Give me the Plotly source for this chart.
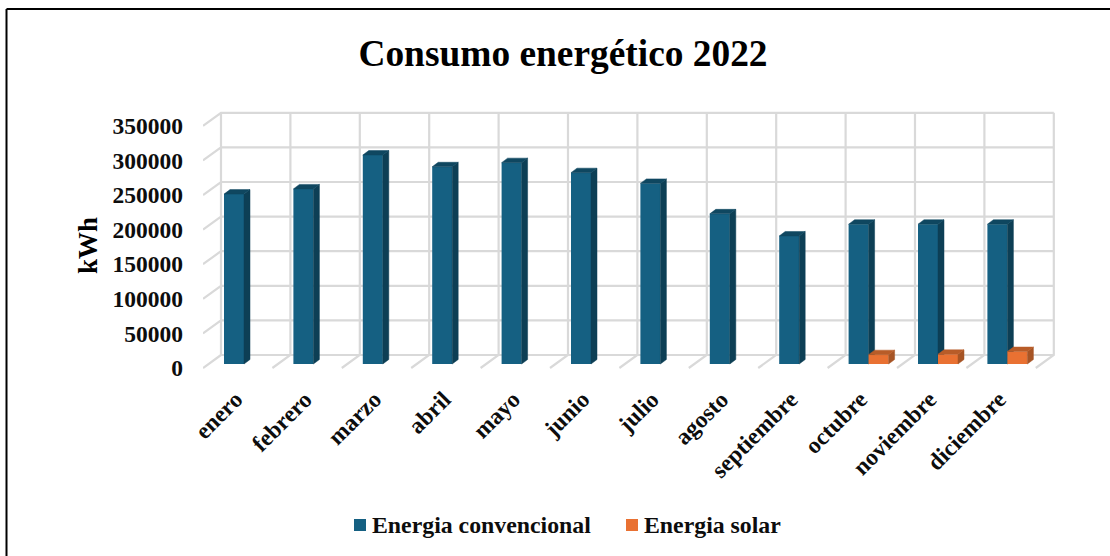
import plotly.graph_objects as go

months = ["enero", "febrero", "marzo", "abril", "mayo", "junio", "julio", "agosto",
          "septiembre", "octubre", "noviembre", "diciembre"]
conv = [245500, 253000, 302000, 285000, 291000, 276500, 261000, 217000, 185000, 202000, 202000, 202000]
solar = [None, None, None, None, None, None, None, None, None, 13500, 14000, 18000]
y_ticks = [0, 50000, 100000, 150000, 200000, 250000, 300000, 350000]
COLOR_CONV = "#156082"
COLOR_SOLAR = "#E97132"
NAME_CONV = "Energia convencional"
NAME_SOLAR = "Energia solar"

W, H = 1110, 556
L, R, T, B = 203, 1060, 108, 372
PX_X = 69.4
PX_Y = 34.6 / 50000
Y0 = 368
ux = 1 / PX_X
uy = 1 / PX_Y
x_lo = -0.5
x_hi = x_lo + (R - L) * ux
y_lo = (Y0 - B) * uy
y_hi = (Y0 - T) * uy

WDX, WDY = 18 * ux, 13 * uy
BASE_Y = 4 * uy
BW = 20 * ux
BDX, BDY = 6 * ux, 4.5 * uy
C0 = 203 + 34.7
OFF_CONV = (224 - C0) * ux
OFF_SOL = (244 - C0) * ux

n = len(months)
top_back = y_ticks[-1] + WDY
segs = []
for v in y_ticks:
    segs.append(f"M{x_lo},{v} L{x_lo + WDX},{v + WDY} L{x_lo + n + WDX},{v + WDY}")
for i in range(n + 1):
    xb = x_lo + i + WDX
    segs.append(f"M{xb},{top_back} L{xb},{WDY} L{xb - WDX},0")
grid_shape = dict(type="path", path=" ".join(segs), xref="x", yref="y", layer="below",
                  line=dict(color="#D9D9D9", width=2.2))

fig = go.Figure()


def faces(vals, off, side, top, xa, ya):
    sx, sy, tx, ty = [], [], [], []
    for i, v in enumerate(vals):
        if v is None:
            continue
        x0 = i + off
        x1 = x0 + BW
        b = BASE_Y
        h = b + v
        sx += [x1, x1 + BDX, x1 + BDX, x1, x1, None]
        sy += [b, b + BDY, h + BDY, h, b, None]
        tx += [x0, x0 + BDX, x1 + BDX, x1, x0, None]
        ty += [h, h + BDY, h + BDY, h, h, None]
    for xs, ys, c in ((sx, sy, side), (tx, ty, top)):
        fig.add_trace(go.Scatter(x=xs, y=ys, mode="lines", fill="toself", fillcolor=c, xaxis=xa, yaxis=ya,
                                 line=dict(color=c, width=0.5), showlegend=False, hoverinfo="skip"))


fig.add_trace(go.Bar(x=list(range(n)), y=conv, base=BASE_Y, width=BW, offset=OFF_CONV,
                     marker=dict(color=COLOR_CONV, line=dict(width=0)), name=NAME_CONV))
faces(conv, OFF_CONV, "#0D3F55", "#0F4760", "x", "y")
fig.add_trace(go.Bar(x=list(range(n)), y=solar, base=BASE_Y, width=BW, offset=OFF_SOL, xaxis="x2", yaxis="y2",
                     marker=dict(color=COLOR_SOLAR, line=dict(width=0)), name=NAME_SOLAR))
faces(solar, OFF_SOL, "#A65425", "#B85C28", "x2", "y2")

SERIF = "Liberation Serif"
INK = "#0D0D0D"


def px_x(p):
    return (p - L) / (R - L)


def px_y(p):
    return (B - p) / (B - T)


def swatch(x0, y0, c):
    return dict(type="rect", xref="paper", yref="paper", x0=px_x(x0), x1=px_x(x0 + 12),
                y0=px_y(y0), y1=px_y(y0 + 12), fillcolor=c, line=dict(width=0))


def legend_text(x, text):
    return dict(text=text, xref="paper", yref="paper", x=px_x(x), y=px_y(525), xanchor="left", yanchor="middle",
                showarrow=False, font=dict(family=SERIF, size=23.8, color=INK, weight=700))


fig.update_layout(
    width=W, height=H, autosize=False,
    paper_bgcolor="white", plot_bgcolor="white",
    margin=dict(l=L, r=W - R, t=T, b=H - B, autoexpand=False),
    barmode="overlay", showlegend=False,
    font=dict(family=SERIF, color=INK),
    title=dict(text="Consumo energético 2022", x=563 / W, xanchor="center",
               y=1 - 53 / H, yanchor="middle", font=dict(family=SERIF, size=37.4, color="#000000", weight=700)),
    xaxis=dict(range=[x_lo, x_hi], tickmode="array", tickvals=list(range(n)), ticktext=months,
               tickangle=-45, showgrid=False, zeroline=False, showline=False, ticks="",
               ticklabelstandoff=8, ticklabelshift=-2, tickfont=dict(family=SERIF, size=23.5, color=INK, weight=700)),
    yaxis=dict(range=[y_lo, y_hi], tickmode="array", tickvals=y_ticks, tickformat="d", showgrid=False,
               zeroline=False, showline=False, ticks="", ticklabelstandoff=19,
               tickfont=dict(family=SERIF, size=23.5, color=INK, weight=700)),
    xaxis2=dict(range=[x_lo, x_hi], overlaying="x", visible=False),
    yaxis2=dict(range=[y_lo, y_hi], overlaying="y", visible=False),
    annotations=[
        legend_text(370, NAME_CONV), legend_text(641.5, NAME_SOLAR),
        dict(text="kWh", textangle=-90, xref="paper", yref="paper", x=px_x(88), y=px_y(246),
             xanchor="center", yanchor="middle", showarrow=False,
             font=dict(family=SERIF, size=27, color="#000000", weight=700)),
    ],
    shapes=[
        grid_shape,
        swatch(354, 519, COLOR_CONV),
        swatch(626, 519, COLOR_SOLAR),
        dict(type="line", xref="paper", yref="paper", x0=px_x(6.5), x1=px_x(1110),
             y0=px_y(9), y1=px_y(9), line=dict(color="black", width=2)),
        dict(type="line", xref="paper", yref="paper", x0=px_x(6.5), x1=px_x(6.5),
             y0=px_y(9), y1=px_y(556), line=dict(color="black", width=2)),
    ],
)
fig.write_html("out.html", config=dict(displayModeBar=False),
               post_script="document.body.style.margin='0';document.body.style.overflow='hidden';")
